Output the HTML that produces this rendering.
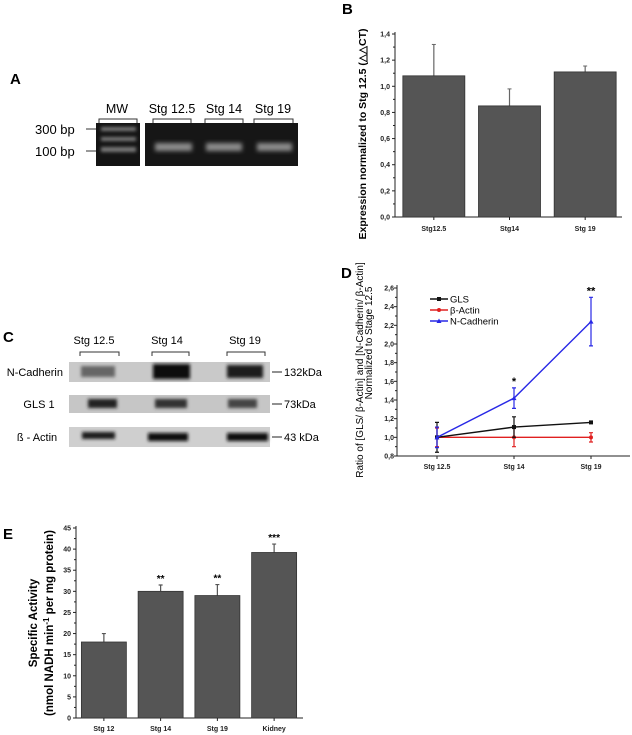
<!DOCTYPE html>
<html><head><meta charset="utf-8"><style>
html,body{margin:0;padding:0;background:#fff;}
svg{display:block;font-family:"Liberation Sans",Arial,sans-serif;}
.tk{font-size:7px;fill:#222;font-weight:bold;}
.lbl{font-size:15px;font-weight:bold;fill:#000;}
</style></head><body>
<svg id="fig" width="632" height="735" viewBox="0 0 632 735">
<defs>
<filter id="blur1" x="-20%" y="-50%" width="140%" height="200%"><feGaussianBlur stdDeviation="2"/></filter>
<filter id="blur2" x="-20%" y="-50%" width="140%" height="200%"><feGaussianBlur stdDeviation="1.5"/></filter>
</defs>

<!-- Panel A -->
<g>
<text class="lbl" x="10" y="84">A</text>
<text x="117" y="113" font-size="12.5" text-anchor="middle">MW</text>
<text x="172" y="113" font-size="12.5" text-anchor="middle">Stg 12.5</text>
<text x="224" y="113" font-size="12.5" text-anchor="middle">Stg 14</text>
<text x="273" y="113" font-size="12.5" text-anchor="middle">Stg 19</text>
<path d="M99,123V119H137V123 M153,123V119H191V123 M205,123V119H243V123 M254,123V119H293V123" stroke="#333" fill="none" stroke-width="1"/>
<rect x="96" y="123" width="44" height="43" fill="#141414"/>
<rect x="145" y="123" width="153" height="43" fill="#161616"/>
<g filter="url(#blur2)" fill="#777">
<rect x="101" y="127" width="35" height="4"/><rect x="101" y="137" width="35" height="4"/><rect x="101" y="147" width="35" height="5"/>
</g>
<g filter="url(#blur1)" fill="#8a8a8a">
<rect x="155" y="143" width="37" height="8"/><rect x="206" y="143" width="36" height="8"/><rect x="257" y="143" width="35" height="8"/>
</g>
<line x1="86" y1="129" x2="96" y2="129" stroke="#333"/>
<line x1="86" y1="151" x2="96" y2="151" stroke="#333"/>
<text x="35" y="134" font-size="13">300 bp</text>
<text x="35" y="156" font-size="13">100 bp</text>
</g>

<!-- Panel C -->
<g>
<text class="lbl" x="3" y="342">C</text>
<text x="94" y="344" font-size="11" text-anchor="middle">Stg  12.5</text>
<text x="167" y="344" font-size="11" text-anchor="middle">Stg  14</text>
<text x="245" y="344" font-size="11" text-anchor="middle">Stg  19</text>
<path d="M80,356V352H119V356 M152,356V352H189V356 M227,356V352H265V356" stroke="#333" fill="none"/>
<rect x="69" y="362" width="201" height="20" fill="#c9c9c9"/>
<rect x="69" y="395" width="201" height="18" fill="#c6c6c6"/>
<rect x="69" y="427" width="201" height="20" fill="#cfcfcf"/>
<g filter="url(#blur2)">
<rect x="81" y="366" width="34" height="11" fill="#666"/>
<rect x="153" y="364" width="37" height="15" fill="#111"/>
<rect x="227" y="365" width="36" height="13" fill="#1a1a1a"/>
<rect x="88" y="399" width="29" height="9" fill="#222"/>
<rect x="155" y="399" width="32" height="9" fill="#333"/>
<rect x="228" y="399" width="29" height="9" fill="#444"/>
<rect x="82" y="432" width="33" height="7" fill="#1a1a1a"/>
<rect x="148" y="433" width="40" height="8" fill="#111"/>
<rect x="227" y="433" width="41" height="8" fill="#111"/>
</g>
<text x="63" y="376" font-size="11" text-anchor="end">N-Cadherin</text>
<text x="39" y="408" font-size="11" text-anchor="middle">GLS 1</text>
<text x="37" y="441" font-size="11" text-anchor="middle">ß - Actin</text>
<path d="M272,372H282 M272,404H282 M272,437H282" stroke="#222"/>
<text x="284" y="376" font-size="11">132kDa</text>
<text x="284" y="408" font-size="11">73kDa</text>
<text x="284" y="441" font-size="11">43 kDa</text>
</g>

<text class="lbl" x="342" y="14">B</text>
<text class="lbl" x="341" y="278">D</text>
<text class="lbl" x="3" y="539">E</text>

<g id="chartB"></g>
<g id="chartD"></g>
<g id="chartE"></g>
</svg>
<script>
const bCategories = ["Stg12.5","Stg14","Stg 19"];
const bValues = [1.08, 0.85, 1.11];
const bErrors = [0.24, 0.13, 0.045];
const bTicks = ["0,0","0,2","0,4","0,6","0,8","1,0","1,2","1,4"];

const dCategories = ["Stg 12.5","Stg 14","Stg 19"];
const dGLS = [1.0, 1.11, 1.16];
const dGLSErr = [0.16, 0.11, 0.0];
const dActin = [1.0, 1.0, 1.0];
const dActinErr = [0.1, 0.1, 0.05];
const dNCad = [1.0, 1.42, 2.24];
const dNCadErr = [0.11, 0.11, 0.26];
const dTicks = ["0,8","1,0","1,2","1,4","1,6","1,8","2,0","2,2","2,4","2,6"];
const dStars = ["", "*", "**"];

const eCategories = ["Stg 12","Stg 14","Stg 19","Kidney"];
const eValues = [18, 30, 29, 39.2];
const eErrors = [2, 1.5, 2.6, 2];
const eStars = ["", "**", "**", "***"];
const eTicks = ["0","5","10","15","20","25","30","35","40","45"];

const NS="http://www.w3.org/2000/svg";
function mk(parent, tag, attrs, txt){
  const el=document.createElementNS(NS,tag);
  for(const k in attrs) el.setAttribute(k,attrs[k]);
  if(txt!==undefined) el.textContent=txt;
  parent.appendChild(el); return el;
}

// Chart B
(function(){
  const g=document.getElementById('chartB');
  const x0=395,x1=622,yTop=34,yBot=217,vmax=1.4;
  const y=v=>yBot-(v/vmax)*(yBot-yTop);
  const bw=(x1-x0)/3;
  const xc=i=>x0+bw*(i+0.5)+1;
  mk(g,'line',{x1:x0,y1:yTop-2,x2:x0,y2:yBot,stroke:'#222'});
  mk(g,'line',{x1:x0,y1:yBot,x2:x1,y2:yBot,stroke:'#222'});
  bTicks.forEach((t,i)=>{
    const v=i*0.2, yy=y(v);
    mk(g,'line',{x1:x0-3,y1:yy,x2:x0,y2:yy,stroke:'#222'});
    if(i<7) mk(g,'line',{x1:x0-2,y1:y(v+0.1),x2:x0,y2:y(v+0.1),stroke:'#222'});
    const tx=mk(g,'text',{x:x0-5,y:yy+2.5,'text-anchor':'end',class:'tk'},t);
    
    
  });
  bCategories.forEach((c,i)=>{
    const cx=xc(i);
    const e=mk(g,'line',{x1:cx,y1:y(bValues[i]),x2:cx,y2:y(bValues[i]+bErrors[i]),stroke:'#666','stroke-width':1.2});
    
    
    mk(g,'line',{x1:cx-2,y1:y(bValues[i]+bErrors[i]),x2:cx+2,y2:y(bValues[i]+bErrors[i]),stroke:'#666'});
    const r=mk(g,'rect',{x:cx-31,y:y(bValues[i]),width:62,height:yBot-y(bValues[i]),fill:'#555',stroke:'#333','stroke-width':0.8});
    
    
    mk(g,'line',{x1:cx,y1:yBot,x2:cx,y2:yBot+3,stroke:'#222'});
    const t=mk(g,'text',{x:cx,y:231,'text-anchor':'middle',class:'tk'},c);
    
    
  });
  const tt=mk(g,'text',{transform:'translate(366,134) rotate(-90)','text-anchor':'middle','font-size':'10.5','font-weight':'bold'},'Expression normalized to Stg 12.5 (\u25B3\u25B3CT)');
  
  
})();

// Chart D
(function(){
  const g=document.getElementById('chartD');
  const x0=397,x1=630,yTop=288,yBot=456,vmin=0.8,vmax=2.6;
  const y=v=>yBot-(v-vmin)/(vmax-vmin)*(yBot-yTop);
  const xs=[437,513,591];
  const xc=i=>xs[0]+(xs[2]-xs[0])/2*i;
  mk(g,'line',{x1:x0,y1:yTop-3,x2:x0,y2:yBot,stroke:'#222'});
  mk(g,'line',{x1:x0,y1:yBot,x2:x1,y2:yBot,stroke:'#222'});
  dTicks.forEach((t,i)=>{
    const v=vmin+i*0.2, yy=y(v);
    mk(g,'line',{x1:x0-3,y1:yy,x2:x0,y2:yy,stroke:'#222'});
    if(i<9) mk(g,'line',{x1:x0-2,y1:y(v+0.1),x2:x0,y2:y(v+0.1),stroke:'#222'});
    const tx=mk(g,'text',{x:x0-3,y:yy+2.5,'text-anchor':'end',class:'tk','font-weight':'normal'},t);
    
    
  });
  dCategories.forEach((c,i)=>{
    mk(g,'line',{x1:xc(i),y1:yBot,x2:xc(i),y2:yBot+3,stroke:'#222'});
    const t=mk(g,'text',{x:xc(i),y:469,'text-anchor':'middle',class:'tk','font-weight':'normal'},c);
    
    
  });
  const series=[[dActin,dActinErr,'#e02020','circle','actin'],[dGLS,dGLSErr,'#111','square','gls'],[dNCad,dNCadErr,'#2828e6','tri','ncadherin']];
  series.forEach(s=>{
    const [vals,errs,col,shape,nm]=s;
    const pts=vals.map((v,i)=>xc(i)+','+y(v)).join(' ');
    const pl=mk(g,'polyline',{points:pts,fill:'none',stroke:col,'stroke-width':1.4});
    
    
    vals.forEach((v,i)=>{
      const cx=xc(i);
      if(errs[i]>0){
        const e=mk(g,'path',{d:`M${cx},${y(v+errs[i])}V${y(v-errs[i])}M${cx-2},${y(v+errs[i])}h4M${cx-2},${y(v-errs[i])}h4`,stroke:col,fill:'none','stroke-width':1.2});
        
        
      }
      let m;
      if(shape==='circle') m=mk(g,'circle',{cx:cx,cy:y(v),r:2,fill:col});
      else if(shape==='square') m=mk(g,'rect',{x:cx-2,y:y(v)-2,width:4,height:4,fill:col});
      else m=mk(g,'path',{d:`M${cx},${y(v)-2.5}l2.5,4.5h-5z`,fill:col});
      
      
    });
  });
  dStars.forEach((s,i)=>{
    if(!s) return;
    const t=mk(g,'text',{x:xc(i),y:y(dNCad[i]+dNCadErr[i])-3,'text-anchor':'middle','font-size':'11','font-weight':'bold'},s);
    
    
  });
  const leg=[['GLS','#111','square'],['\u03B2-Actin','#e02020','circle'],['N-Cadherin','#2828e6','tri']];
  leg.forEach((l,i)=>{
    const yy=299+i*11;
    const lg=mk(g,'g',{});
    
    
    mk(lg,'line',{x1:430,y1:yy,x2:448,y2:yy,stroke:l[1],'stroke-width':1.4});
    if(l[2]==='square') mk(lg,'rect',{x:437,y:yy-2,width:4,height:4,fill:l[1]});
    else if(l[2]==='circle') mk(lg,'circle',{cx:439,cy:yy,r:2,fill:l[1]});
    else mk(lg,'path',{d:`M439,${yy-2.5}l2.5,4.5h-5z`,fill:l[1]});
    mk(lg,'text',{x:450,y:yy+3.5,'font-size':'9.5'},l[0]);
  });
  const t1=mk(g,'text',{transform:'translate(363,370) rotate(-90)','text-anchor':'middle','font-size':'10'},'Ratio of [GLS/ \u03B2-Actin] and [N-Cadherin/  \u03B2-Actin]');
  
  
  const t2=mk(g,'text',{transform:'translate(372,343) rotate(-90)','text-anchor':'middle','font-size':'10'},'Normalized to Stage 12.5');
  
  
})();

// Chart E
(function(){
  const g=document.getElementById('chartE');
  const x0=76,x1=303,yTop=528,yBot=718,vmax=45;
  const y=v=>yBot-(v/vmax)*(yBot-yTop);
  const bw=(x1-x0)/4;
  const xc=i=>x0+bw*(i+0.5)-0.5;
  mk(g,'line',{x1:x0,y1:yTop-2,x2:x0,y2:yBot,stroke:'#222'});
  mk(g,'line',{x1:x0,y1:yBot,x2:x1,y2:yBot,stroke:'#222'});
  eTicks.forEach((t,i)=>{
    const v=i*5, yy=y(v);
    mk(g,'line',{x1:x0-3,y1:yy,x2:x0,y2:yy,stroke:'#222'});
    if(i<9) mk(g,'line',{x1:x0-2,y1:y(v+2.5),x2:x0,y2:y(v+2.5),stroke:'#222'});
    const tx=mk(g,'text',{x:x0-5,y:yy+2.5,'text-anchor':'end',class:'tk','font-weight':'normal'},t);
    
    
  });
  eCategories.forEach((c,i)=>{
    const cx=xc(i), top=y(eValues[i]+eErrors[i]);
    const e=mk(g,'path',{d:`M${cx},${y(eValues[i])}V${top}M${cx-2},${top}h4`,stroke:'#555',fill:'none','stroke-width':1.2});
    
    
    const r=mk(g,'rect',{x:cx-22.5,y:y(eValues[i]),width:45,height:yBot-y(eValues[i]),fill:'#555',stroke:'#333','stroke-width':0.8});
    
    
    mk(g,'line',{x1:cx,y1:yBot,x2:cx,y2:yBot+3,stroke:'#222'});
    const t=mk(g,'text',{x:cx,y:731,'text-anchor':'middle',class:'tk'},c);
    
    
    if(eStars[i]){
      const s=mk(g,'text',{x:cx,y:top-3,'text-anchor':'middle','font-size':'10','font-weight':'bold'},eStars[i]);
      
      
    }
  });
  const t1=mk(g,'text',{transform:'translate(37,623) rotate(-90)','text-anchor':'middle','font-size':'11.5','font-weight':'bold'},'Specific Activity');
  
  
  const t2=mk(g,'text',{transform:'translate(53,623) rotate(-90)','text-anchor':'middle','font-size':'11.5','font-weight':'bold'});
  
  
  t2.appendChild(document.createTextNode('(nmol NADH min'));
  const sup=mk(t2,'tspan',{dy:-4,'font-size':'8'},'-1');
  mk(t2,'tspan',{dy:4},' per mg protein)');
})();
</script>
</body></html>
